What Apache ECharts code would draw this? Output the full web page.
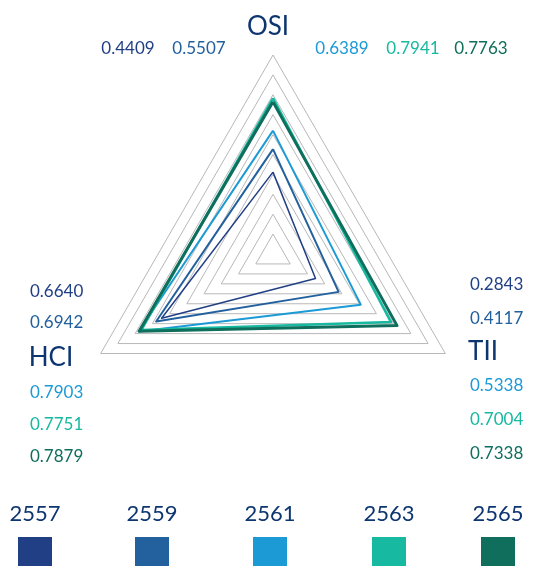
<!DOCTYPE html>
<html>
<head>
<meta charset="utf-8">
<script src="https://cdn.jsdelivr.net/npm/echarts@6/dist/echarts.min.js"></script>
<style>
  html, body { margin: 0; padding: 0; background: #fff; }
  #chart { width: 540px; height: 566px; }
</style>
</head>
<body>
<div id="chart"></div>
<script>
// indicator order: top, bottom-left, bottom-right
const indicators = ['OSI', 'HCI', 'TII']
const years = ['2557', '2559', '2561', '2563', '2565']
const osi = [0.4409, 0.5507, 0.6389, 0.7941, 0.7763]
const hci = [0.6640, 0.6942, 0.7903, 0.7751, 0.7879]
const tii = [0.2843, 0.4117, 0.5338, 0.7004, 0.7338]
const colors = ['#213f85', '#22609e', '#1c9ad6', '#17b9a0', '#0f6e5c']
const lineWidths = [1.5, 2, 2, 2.5, 3]

const navy = '#0d3570'
const font = 'Lato'

const chart = echarts.init(document.getElementById('chart'))

const graphics = []

// axis names
const namePos = [
  { x: 268, y: 27 },
  { x: 51, y: 358 },
  { x: 483, y: 352 },
]
indicators.forEach((n, i) => {
  graphics.push({
    type: 'text',
    x: namePos[i].x,
    y: namePos[i].y,
    style: {
      text: n, fill: navy, font: '26px ' + font,
      textAlign: 'center', textVerticalAlign: 'middle',
    },
  })
})

// value labels
const fmt = (v) => v.toFixed(4)
const topX = [128, 199, 342, 413, 481]
osi.forEach((v, i) => {
  graphics.push({
    type: 'text', x: topX[i], y: 49,
    style: { text: fmt(v), fill: colors[i], font: '17px ' + font, textAlign: 'center', textVerticalAlign: 'middle' },
  })
})
const leftY = [292, 323, 393, 425, 457]
hci.forEach((v, i) => {
  graphics.push({
    type: 'text', x: 30, y: leftY[i],
    style: { text: fmt(v), fill: colors[i], font: '17px ' + font, textAlign: 'left', textVerticalAlign: 'middle' },
  })
})
const rightY = [285, 319, 386, 420, 454]
tii.forEach((v, i) => {
  graphics.push({
    type: 'text', x: 470, y: rightY[i],
    style: { text: fmt(v), fill: colors[i], font: '17px ' + font, textAlign: 'left', textVerticalAlign: 'middle' },
  })
})

// legend: year above a colour square
const legX = [35, 152, 270, 389, 498]
years.forEach((y, i) => {
  graphics.push({
    type: 'text', x: legX[i], y: 514,
    style: { text: y, fill: navy, font: '22px ' + font, textAlign: 'center', textVerticalAlign: 'middle' },
  })
  graphics.push({
    type: 'rect',
    shape: { x: legX[i] - 17, y: 537, width: 34, height: 29 },
    style: { fill: colors[i] },
  })
})

const option = {
  backgroundColor: '#fff',
  animation: false,
  radar: {
    center: [273, 254],
    radius: 199,
    startAngle: 90,
    shape: 'polygon',
    splitNumber: 10,
    indicator: indicators.map((n) => ({ name: n, min: 0.05, max: 1 })),
    axisName: { show: false },
    axisLine: { show: false },
    axisTick: { show: false },
    axisLabel: { show: false },
    splitArea: { show: false },
    splitLine: { lineStyle: { color: '#b8b8b8', width: 1 } },
  },
  series: [
    {
      type: 'radar',
      symbol: 'none',
      data: years.map((y, i) => ({
        name: y,
        value: [osi[i], hci[i], tii[i]],
        lineStyle: { color: colors[i], width: lineWidths[i] },
        itemStyle: { color: colors[i] },
      })),
    },
  ],
  graphic: graphics,
}

chart.setOption(option)
</script>
</body>
</html>
